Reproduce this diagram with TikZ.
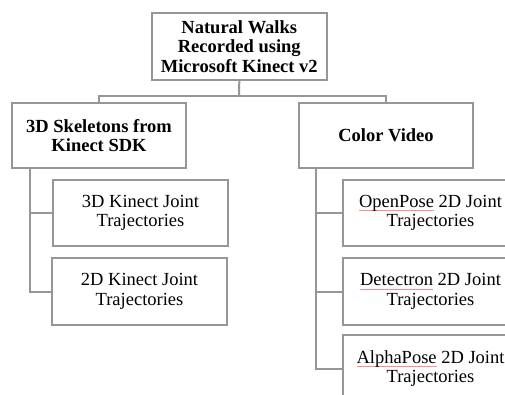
\documentclass[tikz,border=0pt]{standalone}
\usepackage{fontspec}
\setmainfont{Liberation Serif}
\newlength\spw
\newcommand\spellmark[1]{\settowidth\spw{#1}\rlap{\textcolor{red!45}{\rule[-3.5pt]{\spw}{0.8pt}}}#1}
\definecolor{linegray}{RGB}{150,150,150}
\tikzset{
  box/.style={draw=linegray, line width=2pt, fill=white, align=center, inner sep=0pt,
    font=\fontsize{18.5}{19.5}\selectfont, minimum width=174pt, minimum height=66pt},
  boldbox/.style={box, font=\fontsize{18.5}{19.5}\selectfont\bfseries},
  conn/.style={draw=linegray, line width=2pt}
}
\begin{document}
\begin{tikzpicture}[x=1pt,y=-1pt]
\useasboundingbox (0,0) rectangle (505,394);
\clip (0,0) rectangle (505,394);
\fill[white] (0,0) rectangle (505,394);
\coordinate (jt) at (239,96);
\coordinate (lx) at (30,168);
\coordinate (rx) at (316,168);
\node[boldbox, minimum width=174.5pt, minimum height=67pt] (top) at (239.3,46.5) {Natural Walks\\Recorded using\\Microsoft Kinect v2};
\node[boldbox, minimum height=65pt] (lm) at (99,135.5) {3D Skeletons from\\Kinect SDK};
\node[boldbox, minimum height=65pt] (rm) at (386,135.5) {Color Video};
\node[box, minimum width=175pt] (l1) at (140.5,213) {3D Kinect Joint\\Trajectories};
\node[box, minimum width=175pt, minimum height=67pt] (l2) at (139.5,291.5) {2D Kinect Joint\\Trajectories};
\node[box, minimum width=175pt] (r1) at (430.5,213) {\spellmark{OpenPose} 2D Joint\\Trajectories};
\node[box, minimum width=175pt, minimum height=67pt] (r2) at (430.5,291.5) {\spellmark{Detectron} 2D Joint\\Trajectories};
\node[box, minimum width=175pt, minimum height=67pt] (r3) at (430.5,368.5) {\spellmark{AlphaPose} 2D Joint\\Trajectories};
\draw[conn] (top.south) -- (jt);
\draw[conn] (jt) -| (lm.north);
\draw[conn] (jt) -| (rm.north);
\draw[conn] (lx) |- (l1.west);
\draw[conn] (lx) |- (l2.west);
\draw[conn] (rx) |- (r1.west);
\draw[conn] (rx) |- (r2.west);
\draw[conn] (rx) |- (r3.west);
\end{tikzpicture}
\end{document}
